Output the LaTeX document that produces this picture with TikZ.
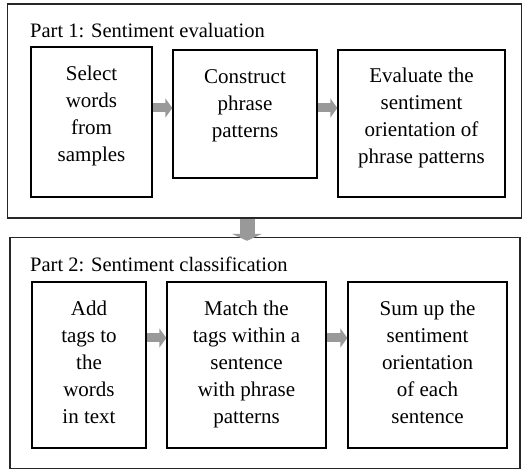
\documentclass[tikz,border=0pt]{standalone}
\usepackage{fontspec}
\setmainfont{Liberation Serif}
\usetikzlibrary{arrows.meta, positioning}

\tikzset{
    stage/.style={draw=black, line width=1.3pt, align=center, inner sep=0pt,
        font=\fontsize{21}{27}\selectfont},
    frame/.style={draw=black!85, line width=1.4pt, inner sep=0pt},
    partlabel/.style={anchor=base west, inner sep=0pt, font=\fontsize{20.5}{24}\selectfont},
    flow/.style={draw=black!40, line width=9pt,
        -{Triangle[width=19pt, length=7pt]}},
    bigflow/.style={draw=black!40, line width=15pt,
        -{Triangle[width=30pt, length=7pt]}}
}

\begin{document}
\begin{tikzpicture}[x=1pt, y=-1pt]

        \useasboundingbox (0,0) rectangle (523,470);

        % Outer frames of the two parts
        \node[frame, minimum width=514pt, minimum height=214pt] (part1) at (264.5,111) {};
        \node[frame, minimum width=510pt, minimum height=231pt] (part2) at (265,353) {};

        \node[partlabel] (lab1) at (30,38) {Part 1: Sentiment evaluation};
        \node[partlabel] (lab2) at (30,272) {Part 2: Sentiment classification};

        % Part 1 stages
        \node[stage, minimum width=121pt, minimum height=150pt, text depth=17pt] (select) at (91.5,122)
            {Select\\words\\from\\samples};
        \node[stage, minimum width=144pt, minimum height=128pt, text depth=20pt] (construct) at (245,114)
            {Construct\\phrase\\patterns};
        \node[stage, minimum width=167pt, minimum height=147pt, text depth=16pt] (evaluate) at (421.5,123.5)
            {Evaluate the\\sentiment\\orientation of\\phrase patterns};

        % Part 2 stages
        \node[stage, minimum width=114pt, minimum height=166pt, text depth=5pt] (addtags) at (89,365)
            {Add\\tags to\\the\\words\\in text};
        \node[stage, minimum width=159pt, minimum height=166pt, text depth=5pt] (match) at (246.5,365)
            {Match the\\tags within a\\sentence\\with phrase\\patterns};
        \node[stage, minimum width=159pt, minimum height=166pt, text depth=5pt] (sumup) at (427.5,365)
            {Sum up the\\sentiment\\orientation\\of each\\sentence};

        % Arrows between stages
        \draw[flow] ([yshift=6pt]construct.west -| select.east) -- ([yshift=6pt]construct.west);
        \draw[flow] ([yshift=6pt]construct.east) -- ([yshift=6pt]construct.east -| evaluate.west);
        \draw[flow] ([yshift=27pt]match.west -| addtags.east) -- ([yshift=27pt]match.west);
        \draw[flow] ([yshift=27pt]match.east) -- ([yshift=27pt]match.east -| sumup.west);

        % Part 1 feeds Part 2
        \draw[bigflow, shorten >=-4pt] ([xshift=-17.5pt]part1.south) -- ([xshift=-18pt]part2.north);

\end{tikzpicture}
\end{document}
